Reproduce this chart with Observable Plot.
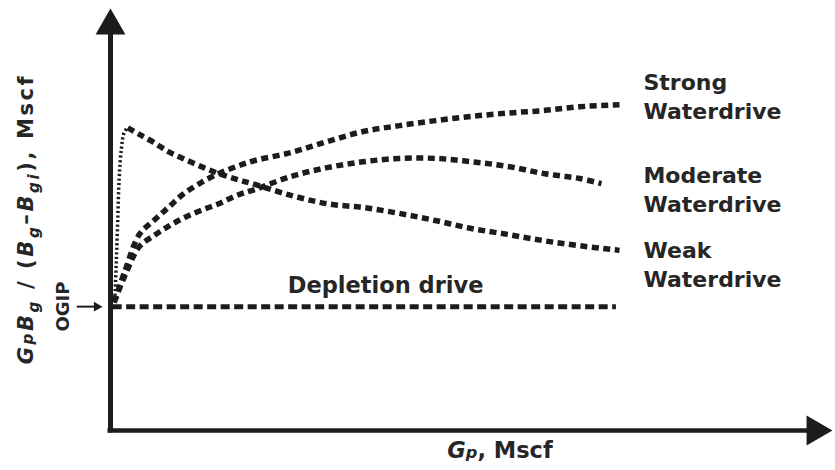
<!DOCTYPE html>
<html>
<head>
<meta charset="utf-8">
<script src="https://cdn.jsdelivr.net/npm/d3@7"></script>
<script src="https://cdn.jsdelivr.net/npm/@observablehq/plot@0.6"></script>
<style>
  body { margin: 0; background: #fff; }
  #chart { width: 835px; height: 470px; }
</style>
</head>
<body>
<div id="chart"></div>
<script>
// Cumulative gas production Gp (relative units) and apparent gas in place
// GpBg/(Bg - Bgi) for each drive mechanism.
const ogip = 29.5;

const gpStrong = [0.5, 2, 4, 6, 8, 10, 12.5, 15, 17.5, 20, 25, 30, 35, 40, 45, 50, 55, 60, 65, 70.5];
const strongDrive = [30.5, 38, 46.7, 50, 53.1, 56.2, 59, 61.2, 62.9, 64.3, 66.2, 68.8, 71.2, 72.6, 73.8, 74.8, 75.6, 76.2, 77.1, 77.6];

const gpModerate = [0.5, 2, 4, 6, 8, 10, 12.5, 15, 17.5, 20, 25, 30, 35, 40, 45, 50, 55, 60, 65, 68];
const moderateDrive = [30.5, 36.9, 43.8, 46.4, 48.6, 50.5, 52.4, 54, 56, 57.4, 60.5, 62.6, 64, 64.8, 64.8, 64, 62.9, 61.2, 60, 58.8];

// Weak waterdrive: early steep rise (fine dots), then the declining trend
const gpWeakRise = [0.6, 0.8, 1.0, 1.2, 1.5, 1.9, 2.4];
const weakRise = [31, 40, 50, 60, 67, 71, 72.1];
const gpWeak = [2.4, 4, 6, 8, 10, 12.5, 15, 17.5, 20, 25, 30, 35, 40, 45, 50, 55, 60, 65, 70.5];
const weakDrive = [72.1, 70.5, 68.6, 66.4, 64.8, 62.9, 61.2, 59.8, 58.6, 56, 54, 53.1, 51.7, 50, 48.1, 46.7, 45.2, 44, 42.9];

const gpDepletion = [0.3, 70];

const driveNames = ["Strong\nWaterdrive", "Moderate\nWaterdrive", "Weak\nWaterdrive"];
const depletionName = "Depletion drive";

const toPoints = (xs, ys) => xs.map((x, i) => ({x, y: ys[i]}));
const strongPts = toPoints(gpStrong, strongDrive);
const moderatePts = toPoints(gpModerate, moderateDrive);
const weakRisePts = toPoints(gpWeakRise, weakRise);
const weakPts = toPoints(gpWeak, weakDrive);
const depletionPts = gpDepletion.map(x => ({x, y: ogip}));

const ink = "#1c1c1c";
const textInk = "#262626";
const dashStyle = {
  x: "x", y: "y", stroke: ink, strokeWidth: 5.5, strokeDasharray: "7,4.5",
  strokeLinecap: "butt", strokeLinejoin: "miter", curve: "catmull-rom"
};
const labelStyle = {fontSize: 22, fontWeight: "bold", fill: textInk, textAnchor: "start", lineHeight: 1.32};

const last = a => a[a.length - 1];

const chart = Plot.plot({
  width: 835,
  height: 470,
  marginLeft: 110,
  marginRight: 3,
  marginTop: 8,
  marginBottom: 40,
  x: {domain: [0, 100], axis: null},
  y: {domain: [0, 100.5], axis: null},
  style: {background: "white", fontFamily: "'DejaVu Sans', sans-serif"},
  marks: [
    // axes with filled arrowheads
    Plot.ruleX([0], {y1: -0.6, y2: 96, stroke: ink, strokeWidth: 5}),
    Plot.ruleY([0], {x1: -0.35, x2: 97, stroke: ink, strokeWidth: 4.5}),
    Plot.dot([100.5], {x: 0, y: d => d, symbol: "triangle", r: 11.1, fill: ink, stroke: null, dy: 17.3}),
    Plot.dot([100], {x: d => d, y: 0, symbol: "triangle", rotate: 90, r: 11.1, fill: ink, stroke: null, dx: -17.3}),

    // OGIP pointer
    Plot.ruleY([ogip], {x1: -4.6, x2: -1.6, stroke: ink, strokeWidth: 2}),
    Plot.dot([ogip], {x: -1.1, y: d => d, symbol: "triangle", rotate: 90, r: 3.7, fill: ink, stroke: null, dx: -5.8}),
    Plot.text([ogip], {x: 0, y: d => d, text: () => "OGIP", rotate: -90, dx: -47, fontSize: 18, fontWeight: "bold", fill: textInk}),

    // drive curves
    Plot.line(depletionPts, {x: "x", y: "y", stroke: ink, strokeWidth: 5, strokeDasharray: "9,4.5", strokeLinecap: "butt"}),
    Plot.line(strongPts, dashStyle),
    Plot.line(moderatePts, dashStyle),
    Plot.line(weakRisePts, {x: "x", y: "y", stroke: ink, strokeWidth: 3.5, strokeDasharray: "2.2,2.4", strokeLinecap: "butt", curve: "catmull-rom"}),
    Plot.line(weakPts, dashStyle),

    // curve labels
    Plot.text([last(strongPts)], {x: "x", y: "y", text: () => driveNames[0], dx: 24, dy: -9.5, ...labelStyle}),
    Plot.text([last(moderatePts)], {x: "x", y: "y", text: () => driveNames[1], dx: 42, dy: 4.5, ...labelStyle}),
    Plot.text([last(weakPts)], {x: "x", y: "y", text: () => driveNames[2], dx: 24, dy: 12.5, ...labelStyle}),
    Plot.text([{x: 38.1, y: ogip}], {x: "x", y: "y", text: () => depletionName, dy: -21, fontSize: 22.5, fontWeight: "bold", fill: textInk})
  ]
});

document.getElementById("chart").appendChild(chart);

// Axis titles with subscripts
const svg = d3.select(chart);
function richText(sel, parts, size) {
  let shift = 0;
  parts.forEach(([str, opt = {}]) => {
    const t = sel.append("tspan").text(str);
    const target = opt.sub ? 0.3 * size : 0;
    t.attr("dy", target - shift);
    shift = target;
    t.attr("font-size", opt.small ? size * 0.72 : size);
    if (opt.italic) t.attr("font-style", "italic");
  });
}

const yTitle = svg.append("text")
  .attr("transform", `translate(33,${(8 + 430) / 2}) rotate(-90)`)
  .attr("text-anchor", "middle")
  .attr("font-family", "'DejaVu Sans', sans-serif")
  .attr("font-weight", "bold")
  .attr("fill", textInk)
  .attr("letter-spacing", 2.6);
richText(yTitle, [
  ["G", {italic: true}], ["p", {italic: true, small: true}],
  ["B", {italic: true}], ["g", {italic: true, small: true, sub: true}],
  ["\u00a0/\u00a0(", {}],
  ["B", {italic: true}], ["g", {italic: true, small: true, sub: true}],
  ["\u2013", {}],
  ["B", {italic: true}], ["gi", {italic: true, small: true, sub: true}],
  ["),\u00a0Mscf", {}]
], 21);

const xTitle = svg.append("text")
  .attr("x", 500)
  .attr("y", 458)
  .attr("text-anchor", "middle")
  .attr("font-family", "'DejaVu Sans', sans-serif")
  .attr("font-weight", "bold")
  .attr("fill", textInk);
richText(xTitle, [
  ["G", {italic: true}], ["p", {italic: true, small: true}],
  [",\u00a0Mscf", {}]
], 22.5);
</script>
</body>
</html>
